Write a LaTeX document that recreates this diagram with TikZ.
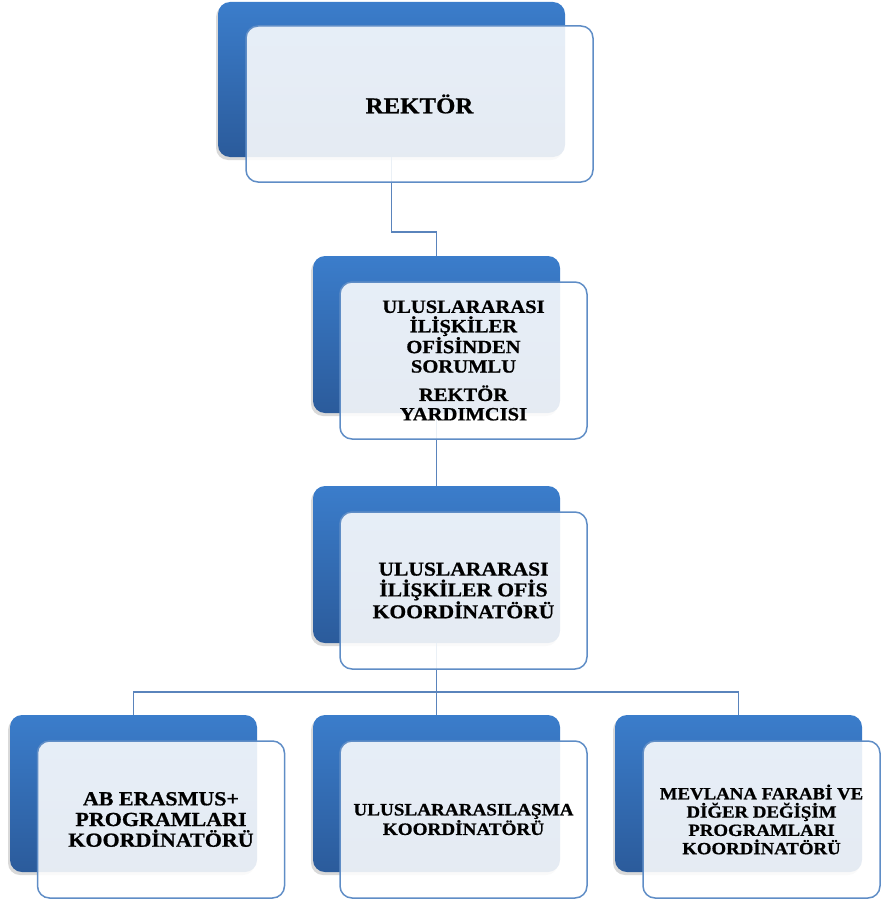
\documentclass[tikz,border=0pt]{standalone}
\usepackage{fontspec}
\setmainfont{Liberation Serif}[FakeStretch=1.1, BoldFeatures={FakeBold=0.8}]
\usetikzlibrary{shadows}

\definecolor{boxtop}{HTML}{3B7DCB}
\definecolor{boxbot}{HTML}{2B5B9B}
\definecolor{edgeblue}{HTML}{5F8DC6}
\definecolor{linkblue}{HTML}{5A84BC}

\tikzset{
  backbox/.style={rounded corners=12pt, top color=boxtop, bottom color=boxbot,
    minimum width=247pt, minimum height=157pt, inner sep=0pt, outer sep=0pt,
    drop shadow={shadow xshift=-2pt, shadow yshift=-3pt, opacity=0.3}},
  frontbox/.style={rounded corners=12pt, draw=edgeblue, line width=1.5pt,
    fill=white, fill opacity=0.88, text opacity=1,
    minimum width=247pt, minimum height=157pt, inner sep=2pt, outer sep=0pt,
    align=center},
  link/.style={draw=linkblue, line width=1.9pt}
}

\begin{document}
\begin{tikzpicture}[x=1pt,y=-1pt]
\useasboundingbox (0,0) rectangle (881,899);

% back boxes
\node[backbox, minimum width=347pt, minimum height=155pt] (b1) at (391.5,79.5) {};
\node[backbox] (b2) at (436.5,334.5) {};
\node[backbox] (b3) at (436.5,564.5) {};
\node[backbox] (b4) at (133.5,793.5) {};
\node[backbox] (b5) at (436.5,793.5) {};
\node[backbox] (b6) at (738.5,793.5) {};

% connectors
\coordinate (j1) at (436.5,232);
\coordinate (j2) at (436.5,692);
\draw[link] (b1.south) |- (j1) -- (b2.north);
\draw[link] (b2.south) -- (b3.north);
\draw[link] (b3.south) -- (j2);
\draw[link] (j2) -| (b4.north);
\draw[link] (j2) -- (b5.north);
\draw[link] (j2) -| (b6.north);

% front boxes
\node[frontbox, minimum width=347pt, minimum height=156pt,
  font=\bfseries\fontsize{22.6}{24}\selectfont] (f1) at (419.5,104) {REKTÖR};
\node[frontbox, font=\bfseries\fontsize{18.7}{19.4}\selectfont] (f2) at (463.5,360.5)
  {ULUSLARARASI\\İLİŞKİLER\\OFİSİNDEN\\SORUMLU\\[9pt]REKTÖR\\YARDIMCISI};
\node[frontbox, font=\bfseries\fontsize{19.6}{20.8}\selectfont] (f3) at (463.5,590.5)
  {ULUSLARARASI\\İLİŞKİLER OFİS\\KOORDİNATÖRÜ};
\node[frontbox, font=\bfseries\fontsize{20}{20.7}\selectfont] (f4) at (161,819.5)
  {AB ERASMUS+\\PROGRAMLARI\\KOORDİNATÖRÜ};
\node[frontbox, font=\bfseries\fontsize{17.4}{18.3}\selectfont] (f5) at (463.5,819.5)
  {ULUSLARARASILAŞMA\\KOORDİNATÖRÜ};
\node[frontbox, minimum width=237pt, font=\bfseries\fontsize{17.1}{18.3}\selectfont] (f6) at (761.5,819.5)
  {MEVLANA FARABİ VE\\DİĞER DEĞİŞİM\\PROGRAMLARI\\KOORDİNATÖRÜ};
\end{tikzpicture}
\end{document}
